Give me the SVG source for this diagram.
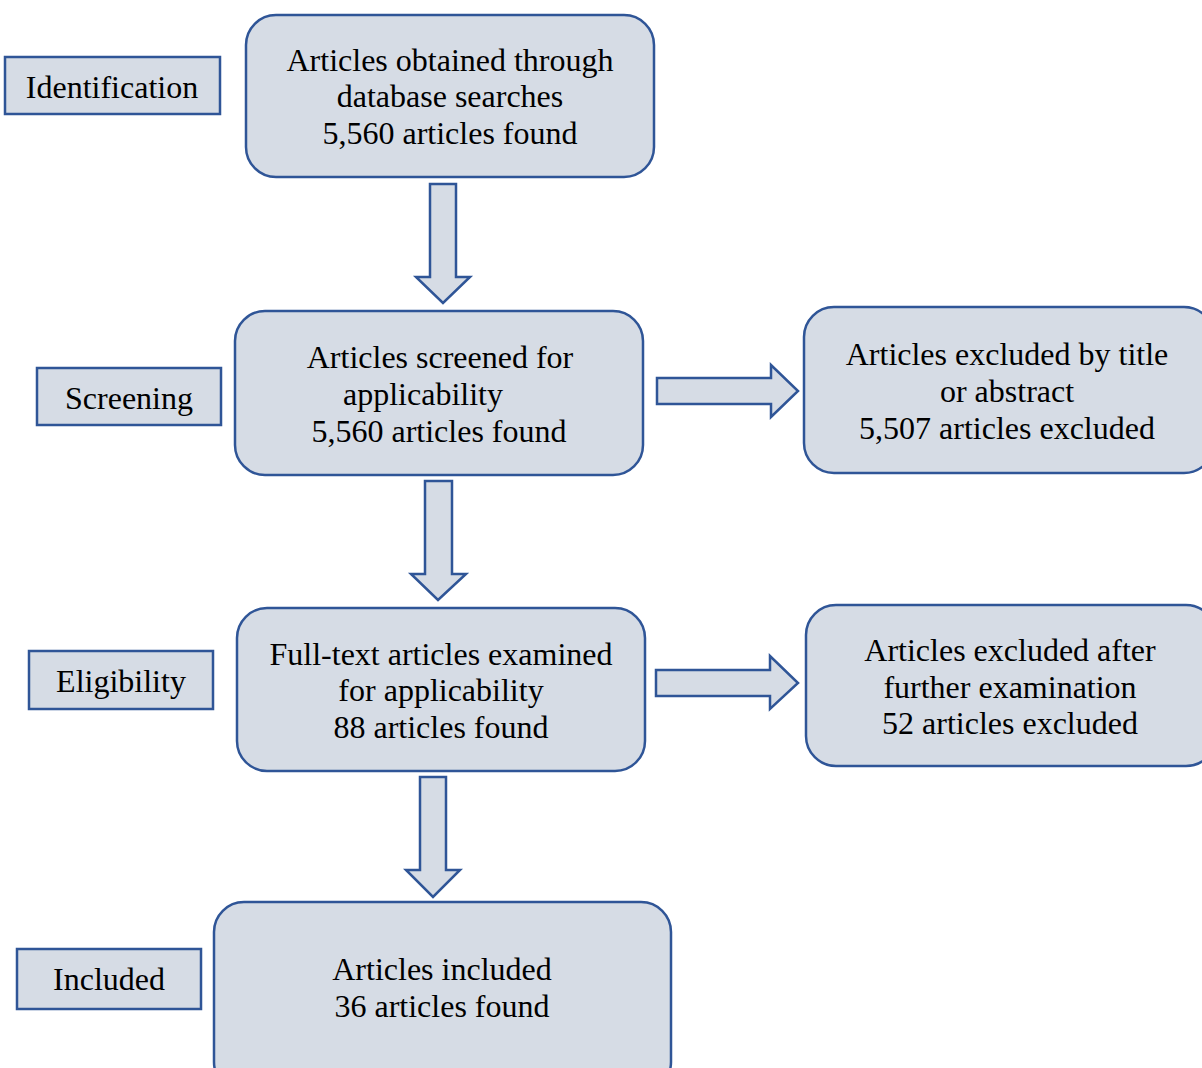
<svg xmlns="http://www.w3.org/2000/svg" width="1202" height="1068" viewBox="0 0 1202 1068">
<style>
.box{fill:#d6dce5;stroke:#2f5597;stroke-width:2.5}
.arr{fill:#d6dce5;stroke:#2f5597;stroke-width:2.5;stroke-linejoin:miter}
text{font-family:"Liberation Serif","Times New Roman",serif;font-size:32px;fill:#000;text-anchor:middle}
</style>
<rect width="1202" height="1068" fill="#fff"/>
<g id="connectors">
<polygon class="arr" points="430,184 456,184 456,277 470,277 443,303 416,277 430,277"/>
<polygon class="arr" points="425,481 452,481 452,574 466,574 438,600 411,574 425,574"/>
<polygon class="arr" points="420,777 446,777 446,870 460,870 433,897 406,870 420,870"/>
<polygon class="arr" points="657,378 771,378 771,365 798,391 771,417 771,404 657,404"/>
<polygon class="arr" points="656,670 770,670 770,656 798,683 770,709 770,696 656,696"/>
</g>
<g id="label-identification"><rect class="box" x="5" y="57" width="215" height="57"/><text x="112" y="98">Identification</text></g>
<g id="label-screening"><rect class="box" x="37" y="368" width="184" height="57"/><text x="129" y="409">Screening</text></g>
<g id="label-eligibility"><rect class="box" x="29" y="651" width="184" height="58"/><text x="121" y="692">Eligibility</text></g>
<g id="label-included"><rect class="box" x="17" y="949" width="184" height="60"/><text x="109" y="990">Included</text></g>
<g id="node-identified"><rect class="box" x="246" y="15" width="408" height="162" rx="30"/>
<text x="450" y="71">Articles obtained through</text><text x="450" y="107">database searches</text><text x="450" y="144">5,560 articles found</text></g>
<g id="node-screened"><rect class="box" x="235" y="311" width="408" height="164" rx="30"/>
<text x="440" y="368">Articles screened for</text><text x="423" y="405">applicability</text><text x="439" y="442">5,560 articles found</text></g>
<g id="node-excluded1"><rect class="box" x="804" y="307" width="410" height="166" rx="30"/>
<text x="1007" y="365">Articles excluded by title</text><text x="1007" y="402">or abstract</text><text x="1007" y="439">5,507 articles excluded</text></g>
<g id="node-fulltext"><rect class="box" x="237" y="608" width="408" height="163" rx="30"/>
<text x="441" y="665">Full-text articles examined</text><text x="441" y="701">for applicability</text><text x="441" y="738">88 articles found</text></g>
<g id="node-excluded2"><rect class="box" x="806" y="605" width="410" height="161" rx="30"/>
<text x="1010" y="661">Articles excluded after</text><text x="1010" y="698">further examination</text><text x="1010" y="734">52 articles excluded</text></g>
<g id="node-included"><rect class="box" x="214" y="902" width="457" height="190" rx="30"/>
<text x="442" y="980">Articles included</text><text x="442" y="1017">36 articles found</text></g>
</svg>
